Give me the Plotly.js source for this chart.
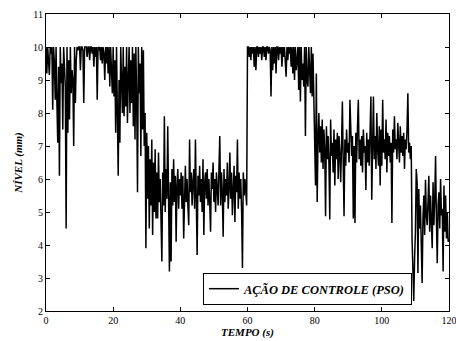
<!DOCTYPE html>
<html>
<head>
<meta charset="utf-8">
<script src="https://cdn.plot.ly/plotly-3.0.1.min.js"></script>
<style>html,body{margin:0;padding:0;background:#fff;}#chart{width:456px;height:341px;}</style>
</head>
<body>
<div id="chart"></div>
<script>
// Sampling step (s) of the control-action signal
const dt = 0.25;
// Nível (mm), 4 samples per second, t = 0 .. 120 s
const nivel0_30 = [
  10, 9.2, 10, 9.6,   9.15, 10, 9.8, 10,   8.1, 10, 9.5, 8.4,   10, 8.3, 7.1, 9.4,
  6.1, 10, 8.9, 9.5,  7.5, 10, 9.1, 8.8,   4.5, 10, 7.4, 9.6,   7.8, 10, 8.6, 9.3,
  9.0, 7.0, 10, 8.3,  9.6, 10, 9.9, 10,    10, 9.3, 10, 10,     9.9, 8.3, 10, 10,
  10, 9.7, 10, 10,    9.6, 10, 10, 9.8,    10, 9.4, 10, 9.7,    10, 8.4, 10, 9.9,
  10, 9.6, 10, 9.5,   10, 9.8, 9.0, 10,    9.5, 10, 9.2, 10,    8.8, 10, 9.3, 8.6,
  10, 8.5, 9.6, 7.4,  10, 8.2, 6.1, 9.0,   7.1, 10, 8.6, 8.0,   10, 7.9, 9.4, 8.2,
  10, 7.7, 9.0, 10,   8.0, 9.6, 8.3, 10,   7.6, 9.8, 7.2, 10,   8.4, 5.6, 10, 8.6,
  9.5, 6.7, 10, 7.5,  9.9, 7.0, 8.0, 3.9
];
const nivel30_60 = [
  7.4, 5.4, 7.0, 4.5,  6.6, 5.2, 7.2, 4.3,  6.5, 5.0, 6.9, 4.8,  6.2, 4.8, 6.8, 5.3,
  6.0, 5.0, 3.5, 6.2,  5.2, 7.9, 5.0, 6.3,  5.4, 7.6, 5.0, 3.2,  5.9, 3.5, 6.3, 5.2,
  6.6, 5.3, 6.1, 4.1,  5.8, 6.3, 5.1, 6.0,  5.5, 6.2, 5.1, 6.1,  4.2, 5.8, 6.4, 5.3,
  6.0, 5.2, 4.6, 7.2,  5.6, 6.2, 5.2, 5.9,  6.3, 5.1, 7.2, 5.4,  3.7, 6.1, 5.5, 6.4,
  5.3, 6.0, 5.0, 6.6,  4.3, 5.9, 6.2, 5.4,  6.3, 5.2, 6.0, 5.3,  4.4, 6.2, 5.7, 6.5,
  5.3, 6.0, 5.0, 6.2,  5.8, 5.2, 6.3, 7.3,  5.2, 6.2, 5.6, 4.25, 6.3, 5.3, 6.0, 5.5,
  6.5, 5.1, 5.7, 6.8,  5.4, 6.2, 4.9, 6.0,  6.4, 4.7, 6.1, 5.6,  7.2, 5.1, 6.2, 5.4,
  6.0, 5.0, 3.3, 6.2,  5.5, 6.0, 5.4, 5.2
];
const nivel60_90 = [
  10, 10, 9.7, 10,    9.6, 10, 9.8, 10,    9.4, 10, 9.3, 10,    10, 9.7, 10, 9.8,
  10, 9.6, 10, 10,    9.7, 10, 9.6, 10,    10, 9.8, 10, 9.9,    8.5, 10, 9.3, 10,
  9.5, 10, 9.2, 10,   10, 9.6, 10, 9.8,    10, 9.4, 10, 9.7,    10, 9.6, 9.1, 10,
  9.6, 10, 9.8, 10,   9.4, 10, 9.2, 10,    9.0, 10, 9.3, 9.6,   10, 8.7, 10, 8.35,
  10, 9.0, 9.5, 8.8,  10, 7.3, 10, 9.0,    8.8, 10, 9.4, 8.6,   10, 8.5, 9.8, 8.2,
  8.0, 5.8, 9.2, 5.3, 7.2, 8.0, 6.8, 7.6,  6.5, 7.8, 6.3, 7.5,  6.9, 4.87, 7.6, 6.6,
  7.3, 6.5, 4.77, 7.8, 6.7, 7.1, 6.2, 7.5, 5.8, 7.2, 6.6, 7.4,  6.0, 7.3, 6.8, 5.9,
  7.0, 8.35, 6.5, 4.87, 7.2, 6.4, 7.5, 6.8
];
const nivel90_120 = [
  7.1, 6.5, 8.4, 6.9,  6.7, 7.3, 4.8, 7.0,  4.67, 7.4, 6.5, 7.6, 8.4, 6.6, 7.2, 6.4,
  7.3, 6.2, 7.5, 6.8,  7.0, 5.67, 7.4, 6.5, 7.2, 6.4, 7.6, 8.5,  5.37, 7.1, 8.5, 6.6,
  7.3, 6.3, 8.0, 6.9,  6.4, 7.6, 5.8, 7.5,  6.4, 8.4, 6.8, 7.2,  6.6, 7.8, 6.2, 7.4,
  6.7, 7.3, 6.5, 7.1,  4.67, 7.5, 6.8, 7.9, 6.9, 7.2, 6.6, 7.7,  7.0, 6.5, 7.6, 6.8,
  7.3, 6.7, 7.4, 6.3,  7.2, 6.9, 7.5, 8.6,  6.8, 7.1, 6.6, 7.0,  4.2, 3.5, 2.3, 3.6,
  4.4, 6.3, 5.9, 3.15, 5.7, 4.5, 5.2, 4.0,  2.85, 4.8, 5.5, 4.3, 5.98, 4.9, 4.6, 5.3,
  6.1, 4.4, 5.5, 4.7,  3.9, 5.9, 4.6, 5.4,  6.7, 4.8, 3.45, 5.2, 5.6, 4.5, 6.0, 4.9,
  5.1, 3.2, 5.8, 4.4,  5.5, 4.2, 5.0, 4.1,  4.2
];
const nivel = [].concat(nivel0_30, nivel30_60, nivel60_90, nivel90_120);
const tempo = nivel.map((_, i) => i * dt);

const xTicks = [0, 20, 40, 60, 80, 100, 120];
const yTicks = [2, 3, 4, 5, 6, 7, 8, 9, 10, 11];
const seriesName = 'AÇÃO DE CONTROLE (PSO)';
const xTitle = 'TEMPO (s)';
const yTitle = 'NÍVEL (mm)';

const font = "Liberation Serif";

const trace = {
  x: tempo, y: nivel, type: 'scatter', mode: 'lines',
  name: '<b><i>' + seriesName + '</i></b>',
  line: {color: '#000', width: 1.5}
};

const axisCommon = {
  showgrid: false, zeroline: false, showline: true, mirror: 'ticks',
  linecolor: '#000', linewidth: 1, ticks: 'inside', ticklen: 4, tickwidth: 1,
  tickcolor: '#000', tickfont: {family: font, size: 10, color: '#000'},
  ticklabeloverflow: 'allow'
};

const layout = {
  width: 456, height: 341,
  margin: {l: 46, r: 7, t: 14, b: 30},
  paper_bgcolor: '#fff', plot_bgcolor: '#fff',
  font: {family: font, color: '#000'},
  xaxis: Object.assign({}, axisCommon, {
    range: [0, 120], tickvals: xTicks, ticktext: xTicks.map(String),
    title: {text: '<b><i>' + xTitle + '</i></b>', font: {family: font, size: 11, color: '#000'}, standoff: 2}
  }),
  yaxis: Object.assign({}, axisCommon, {
    range: [2, 11], tickvals: yTicks, ticktext: yTicks.map(String),
    title: {text: '<b><i>' + yTitle + '</i></b>', font: {family: font, size: 11, color: '#000'}, standoff: 8}
  }),
  showlegend: true,
  legend: {
    x: 0.908, y: 0.02, xanchor: 'right', yanchor: 'bottom',
    bgcolor: '#fff', bordercolor: '#000', borderwidth: 1,
    font: {family: font, size: 12.5, color: '#000'},
    itemwidth: 30, tracegroupgap: 0
  }
};

Plotly.newPlot('chart', [trace], layout, {displayModeBar: false, staticPlot: true});
</script>
</body>
</html>
